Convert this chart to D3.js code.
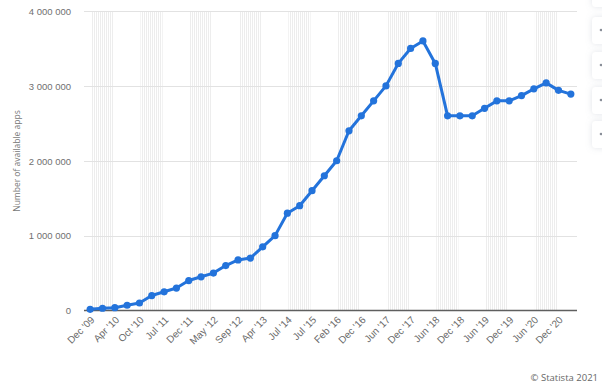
<!DOCTYPE html>
<html><head><meta charset="utf-8">
<script src="https://cdn.jsdelivr.net/npm/d3@7"></script>
<style>
html,body{margin:0;padding:0;background:#fff;}
svg{display:block;font-family:"Open Sans","Noto Sans",sans-serif;}
</style></head>
<body>
<svg id="c" width="602" height="387"></svg>
<script>
const categories = ["Dec '09","Mar '10","Apr '10","Jul '10","Oct '10","Dec '10","Jul '11","Oct '11","Dec '11","Feb '12",
  "May '12","Jun '12","Sep '12","Oct '12","Apr '13","Jul '13","Jul '14","Jan '15","Jul '15","Nov '15",
  "Feb '16","Jun '16","Dec '16","Mar '17","Jun '17","Sep '17","Dec '17","Mar '18","Jun '18","Sep '18",
  "Dec '18","Mar '19","Jun '19","Sep '19","Dec '19","Mar '20","Jun '20","Sep '20","Dec '20","Mar '21"];
const apps = [16000,30000,38000,70000,100000,200000,250000,300000,400000,450000,
  500000,600000,675000,700000,850000,1000000,1300000,1400000,1600000,1800000,
  2000000,2400000,2600000,2800000,3000000,3300000,3500000,3600000,3300000,2600000,
  2600000,2600000,2700000,2800000,2800000,2870000,2960000,3040000,2940000,2890000];
const xTickLabels = ["Dec '09","Apr '10","Oct '10","Jul '11","Dec '11","May '12","Sep '12","Apr '13","Jul '14","Jul '15",
  "Feb '16","Dec '16","Jun '17","Dec '17","Jun '18","Dec '18","Jun '19","Dec '19","Jun '20","Dec '20"];
const yTicks = [0,1000000,2000000,3000000,4000000];
const yTitle = "Number of available apps";
const credit = "© Statista 2021";

const svg = d3.select("#c");
const L = 84, R = 577, T = 11, B = 310.5;
const x = d3.scaleBand().domain(categories).range([L, R]).padding(0);
const xc = d => x(d) + x.bandwidth()/2;
const y = d3.scaleLinear().domain([0, 4000000]).range([B, T]);
const fmt = v => d3.format(",")(v).replace(/,/g, " ");

// hatch pattern
const defs = svg.append("defs");
const pat = defs.append("pattern").attr("id","hatch").attr("patternUnits","userSpaceOnUse")
  .attr("width",2).attr("height",10);
pat.append("rect").attr("x",0).attr("y",0).attr("width",1).attr("height",10).attr("fill","#ededed");
const sh = defs.append("filter").attr("id","sh").attr("x","-50%").attr("y","-50%").attr("width","200%").attr("height","200%");
sh.append("feDropShadow").attr("dx",0).attr("dy",0).attr("stdDeviation",3).attr("flood-color","#9aa5b5").attr("flood-opacity",0.3);

// striped bands every 4 categories
const bandStarts = categories.filter((d,i) => i % 4 === 0);
svg.append("g").selectAll("rect").data(bandStarts).join("rect")
  .attr("x", d => xc(d) + 1)
  .attr("y", T)
  .attr("width", x.step()*1.8)
  .attr("height", B - T)
  .attr("fill", "url(#hatch)");

// gridlines
svg.append("g").selectAll("line").data(yTicks.filter(v => v > 0)).join("line")
  .attr("x1", L).attr("x2", R)
  .attr("y1", d => Math.round(y(d)) + 0.5).attr("y2", d => Math.round(y(d)) + 0.5)
  .attr("stroke", "#e2e2e2").attr("stroke-width", 1.2);

// y axis labels
const yAxis = d3.axisLeft(y).tickValues(yTicks).tickFormat(fmt).tickSize(0).tickPadding(0);
const gy = svg.append("g").attr("transform", `translate(71,0)`).call(yAxis);
gy.select(".domain").remove();
gy.selectAll("text").attr("fill","#707070").style("font-size","9.5px").attr("dy","0.35em");

// y title
svg.append("text").attr("transform", `translate(20,161) rotate(-90)`)
  .attr("text-anchor","middle").attr("fill","#777").style("font-size","8.5px").text(yTitle);

// x axis
const xAxis = d3.axisBottom(x).tickValues(xTickLabels).tickSize(0).tickPadding(0);
const gx = svg.append("g").attr("transform", `translate(0,${B})`).call(xAxis);
gx.select(".domain").remove();
gx.selectAll("text").attr("fill","#6a6a6a").style("font-size","10px")
  .attr("text-anchor","end").attr("dy",null).attr("y",0)
  .attr("transform", "translate(5,10) rotate(-45)");

svg.append("line").attr("x1", L).attr("x2", R).attr("y1", B).attr("y2", B)
  .attr("stroke","#5f5f5f").attr("stroke-width",1.6);

// line + markers
const color = "#2373db";
svg.append("path").datum(apps)
  .attr("d", d3.line().x((d,i) => xc(categories[i])).y(d => y(d)))
  .attr("fill","none").attr("stroke",color).attr("stroke-width",3).attr("stroke-linejoin","round");
svg.append("g").selectAll("circle").data(apps).join("circle")
  .attr("cx", (d,i) => xc(categories[i])).attr("cy", d => y(d)).attr("r", 3.6).attr("fill", color);

// credit
svg.append("text").attr("x",598).attr("y",381).attr("text-anchor","end")
  .attr("fill","#666").style("font-size","9.5px").text(credit);

// toolbar buttons at right edge (cut off)
const btnTops = [-20, 17, 52, 87, 121];
const gb = svg.append("g");
gb.selectAll("rect").data(btnTops).join("rect")
  .attr("x",592).attr("y",d=>d).attr("width",24).attr("height",27).attr("rx",4)
  .attr("fill","#fff").attr("filter","url(#sh)");
gb.selectAll("circle").data(btnTops.slice(1)).join("circle")
  .attr("cx",601).attr("cy",d=>d+13).attr("r",1.3).attr("fill","#8a8f99");
</script>
</body></html>
